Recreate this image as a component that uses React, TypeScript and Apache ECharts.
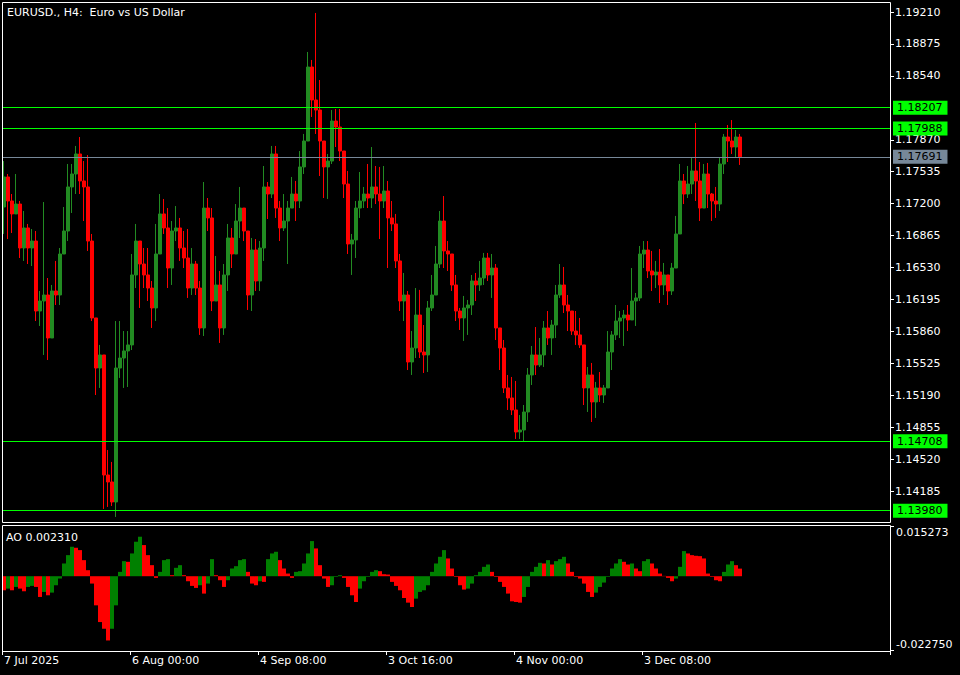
import React, { useEffect, useRef } from 'react';
import * as echarts from 'echarts';

const symbolTitle = 'EURUSD., H4:  Euro vs US Dollar';

// Each candle = 4 H4 bars (open, close, high, low)
const opens = [
  1.17165, 1.17480, 1.17228, 1.17092, 1.17196, 1.16735, 1.16945, 1.16735, 1.16808, 1.16074,
  1.16179, 1.16242, 1.15791, 1.16284, 1.16242, 1.16672, 1.16913, 1.17375, 1.17511, 1.17721,
  1.17438, 1.17375, 1.16808, 1.16001, 1.15476, 1.15613, 1.14354, 1.14281, 1.14071, 1.15476,
  1.15581, 1.15655, 1.15718, 1.16452, 1.16808, 1.16567, 1.16452, 1.16315, 1.16106, 1.16672,
  1.17092, 1.16945, 1.16525, 1.16913, 1.16945, 1.16735, 1.16630, 1.16315, 1.16567, 1.16315,
  1.15896, 1.17154, 1.17050, 1.16179, 1.16347, 1.15896, 1.16452, 1.16840, 1.16672, 1.17018,
  1.17154, 1.16913, 1.16242, 1.16714, 1.16389, 1.16735, 1.17375, 1.17301, 1.17721, 1.17154,
  1.16945, 1.17018, 1.17154, 1.17301, 1.17228, 1.17585, 1.17857, 1.18633, 1.18287, 1.18182,
  1.17857, 1.17585, 1.17647, 1.18067, 1.18004, 1.17752, 1.17406, 1.16777, 1.16819, 1.17154,
  1.17228, 1.17301, 1.17259, 1.17375, 1.17301, 1.17228, 1.17333, 1.17050, 1.16987, 1.16599,
  1.16179, 1.16242, 1.15539, 1.15686, 1.16032, 1.15644, 1.15613, 1.16106, 1.16242, 1.16567,
  1.17018, 1.16704, 1.16672, 1.16347, 1.16074, 1.16001, 1.16106, 1.16137, 1.16389, 1.16347,
  1.16420, 1.16630, 1.16452, 1.16525, 1.15896, 1.15686, 1.15267, 1.15162, 1.15036, 1.14805,
  1.14826, 1.15015, 1.15403, 1.15613, 1.15508, 1.15613, 1.15896, 1.15791, 1.15927, 1.16242,
  1.16347, 1.16137, 1.16074, 1.15864, 1.15823, 1.15718, 1.15267, 1.15403, 1.15120, 1.15267,
  1.15193, 1.15267, 1.15644, 1.15823, 1.15969, 1.16001, 1.16032, 1.15980, 1.16179, 1.16211,
  1.16672, 1.16714, 1.16494, 1.16452, 1.16483, 1.16347, 1.16452, 1.16284, 1.16525, 1.16882,
  1.17438, 1.17301, 1.17406, 1.17543, 1.17438, 1.17154, 1.17511, 1.17301, 1.17228, 1.17196,
  1.17616, 1.17899, 1.17857, 1.17794, 1.17899,
];

const closes = [
  1.17480, 1.17228, 1.17092, 1.17196, 1.16735, 1.16945, 1.16735, 1.16808, 1.16074, 1.16179,
  1.16242, 1.15791, 1.16284, 1.16242, 1.16672, 1.16913, 1.17375, 1.17511, 1.17721, 1.17438,
  1.17375, 1.16808, 1.16001, 1.15476, 1.15613, 1.14354, 1.14281, 1.14071, 1.15476, 1.15581,
  1.15655, 1.15718, 1.16452, 1.16808, 1.16567, 1.16452, 1.16315, 1.16106, 1.16672, 1.17092,
  1.16945, 1.16525, 1.16913, 1.16945, 1.16735, 1.16630, 1.16315, 1.16567, 1.16315, 1.15896,
  1.17154, 1.17050, 1.16179, 1.16347, 1.15896, 1.16452, 1.16840, 1.16672, 1.17018, 1.17154,
  1.16913, 1.16242, 1.16714, 1.16389, 1.16735, 1.17375, 1.17301, 1.17721, 1.17154, 1.16945,
  1.17018, 1.17154, 1.17301, 1.17228, 1.17585, 1.17857, 1.18633, 1.18287, 1.18182, 1.17857,
  1.17585, 1.17647, 1.18067, 1.18004, 1.17752, 1.17406, 1.16777, 1.16819, 1.17154, 1.17228,
  1.17301, 1.17259, 1.17375, 1.17301, 1.17228, 1.17333, 1.17050, 1.16987, 1.16599, 1.16179,
  1.16242, 1.15539, 1.15686, 1.16032, 1.15644, 1.15613, 1.16106, 1.16242, 1.16567, 1.17018,
  1.16704, 1.16672, 1.16347, 1.16074, 1.16001, 1.16106, 1.16137, 1.16389, 1.16347, 1.16420,
  1.16630, 1.16452, 1.16525, 1.15896, 1.15686, 1.15267, 1.15162, 1.15036, 1.14805, 1.14826,
  1.15015, 1.15403, 1.15613, 1.15508, 1.15613, 1.15896, 1.15791, 1.15927, 1.16242, 1.16347,
  1.16137, 1.16074, 1.15864, 1.15823, 1.15718, 1.15267, 1.15403, 1.15120, 1.15267, 1.15193,
  1.15267, 1.15644, 1.15823, 1.15969, 1.16001, 1.16032, 1.15980, 1.16179, 1.16211, 1.16672,
  1.16714, 1.16494, 1.16452, 1.16483, 1.16347, 1.16452, 1.16284, 1.16525, 1.16882, 1.17438,
  1.17301, 1.17406, 1.17543, 1.17438, 1.17154, 1.17511, 1.17301, 1.17228, 1.17196, 1.17616,
  1.17899, 1.17857, 1.17794, 1.17899, 1.17691,
];

const highs = [
  1.17647, 1.17511, 1.17301, 1.17511, 1.17228, 1.17123, 1.16987, 1.16934, 1.16913, 1.16284,
  1.17217, 1.16420, 1.16347, 1.16599, 1.16735, 1.17165, 1.17616, 1.17616, 1.17805, 1.17899,
  1.17647, 1.17710, 1.16882, 1.16001, 1.15718, 1.15476, 1.14616, 1.14491, 1.15969, 1.15969,
  1.15864, 1.15864, 1.16672, 1.16987, 1.16735, 1.16735, 1.16735, 1.16389, 1.16987, 1.17301,
  1.17249, 1.17154, 1.17018, 1.17175, 1.17050, 1.16913, 1.16934, 1.16735, 1.16599, 1.16389,
  1.17427, 1.17259, 1.17154, 1.16651, 1.16494, 1.16567, 1.16987, 1.16945, 1.17196, 1.17375,
  1.17154, 1.16599, 1.16840, 1.16829, 1.16808, 1.17595, 1.17427, 1.17805, 1.17805, 1.17228,
  1.17301, 1.17228, 1.17480, 1.17438, 1.17752, 1.17931, 1.18791, 1.18707, 1.19200, 1.18497,
  1.17857, 1.17721, 1.18182, 1.18193, 1.18193, 1.17647, 1.17543, 1.16882, 1.17228, 1.17532,
  1.17375, 1.17616, 1.17794, 1.17595, 1.17585, 1.17595, 1.17438, 1.17228, 1.17092, 1.16672,
  1.16473, 1.16284, 1.15864, 1.16315, 1.16295, 1.15927, 1.16179, 1.16452, 1.16756, 1.17123,
  1.17280, 1.16808, 1.16672, 1.16452, 1.16106, 1.16232, 1.16190, 1.16452, 1.16473, 1.16599,
  1.16683, 1.16683, 1.16672, 1.16567, 1.15864, 1.15770, 1.15403, 1.15382, 1.15340, 1.14983,
  1.15088, 1.15476, 1.15707, 1.15906, 1.15791, 1.15969, 1.16074, 1.15980, 1.16347, 1.16567,
  1.16536, 1.16242, 1.16074, 1.16074, 1.16001, 1.15686, 1.15487, 1.15529, 1.15330, 1.15434,
  1.15298, 1.15864, 1.15864, 1.16137, 1.16074, 1.16085, 1.16137, 1.16525, 1.16263, 1.16756,
  1.16808, 1.16808, 1.16704, 1.16599, 1.16724, 1.16578, 1.16420, 1.16578, 1.17071, 1.17616,
  1.17511, 1.17595, 1.17689, 1.18046, 1.17637, 1.17616, 1.17627, 1.17312, 1.17375, 1.17689,
  1.17931, 1.18025, 1.18077, 1.17973, 1.17931,
];

const lows = [
  1.16882, 1.16829, 1.16892, 1.17092, 1.16630, 1.16599, 1.16567, 1.16546, 1.15969, 1.15917,
  1.15613, 1.15560, 1.15864, 1.16137, 1.16137, 1.16787, 1.16808, 1.17102, 1.17301, 1.17301,
  1.17018, 1.16704, 1.15969, 1.15193, 1.15267, 1.13998, 1.14019, 1.14029, 1.13914, 1.15372,
  1.15267, 1.15277, 1.15665, 1.16315, 1.16106, 1.16315, 1.16179, 1.15896, 1.15969, 1.16672,
  1.16882, 1.16315, 1.16347, 1.16808, 1.16599, 1.16525, 1.16211, 1.16242, 1.16242, 1.15823,
  1.15812, 1.16913, 1.16074, 1.16242, 1.15739, 1.15823, 1.16284, 1.16525, 1.16840, 1.16840,
  1.16808, 1.16085, 1.16074, 1.16284, 1.16284, 1.16599, 1.17039, 1.17259, 1.17050, 1.16808,
  1.16913, 1.16567, 1.17154, 1.17018, 1.17154, 1.17511, 1.17857, 1.18109, 1.17931, 1.17490,
  1.17259, 1.17249, 1.17616, 1.17794, 1.17647, 1.17259, 1.16672, 1.16452, 1.16630, 1.17050,
  1.17154, 1.17154, 1.17154, 1.17196, 1.16829, 1.17154, 1.16525, 1.16913, 1.16525, 1.16074,
  1.15969, 1.15455, 1.15403, 1.15581, 1.15581, 1.15424, 1.15434, 1.16074, 1.16242, 1.16525,
  1.16525, 1.16494, 1.16284, 1.15969, 1.15875, 1.15760, 1.15823, 1.16032, 1.16179, 1.16284,
  1.16347, 1.16389, 1.16211, 1.15770, 1.15455, 1.15214, 1.15036, 1.14983, 1.14732, 1.14732,
  1.14708, 1.14910, 1.15298, 1.15403, 1.15487, 1.15487, 1.15718, 1.15613, 1.15791, 1.16211,
  1.16053, 1.15864, 1.15823, 1.15718, 1.15686, 1.15088, 1.15015, 1.14910, 1.14952, 1.15120,
  1.15109, 1.15298, 1.15455, 1.15770, 1.15791, 1.15707, 1.15864, 1.16001, 1.15917, 1.16179,
  1.16525, 1.16420, 1.16284, 1.16315, 1.16158, 1.16242, 1.16137, 1.16242, 1.16599, 1.16913,
  1.17196, 1.17259, 1.17301, 1.17228, 1.17018, 1.17228, 1.17154, 1.17018, 1.17050, 1.17123,
  1.17511, 1.17637, 1.17721, 1.17689, 1.17606,
];

const aoValues = [
  -0.00428, -0.00377, -0.00428, -0.00326, -0.00377, -0.00458, -0.00326, -0.00295, -0.00326, -0.00631,
  -0.00478, -0.00580, -0.00499, -0.00275, -0.00071, 0.00387, 0.00641, 0.00896, 0.00865, 0.00794,
  0.00489, 0.00183, -0.00224, -0.00886, -0.01395, -0.01598, -0.01955, -0.01598, -0.00886, 0.00132,
  0.00458, 0.00438, 0.00692, 0.01049, 0.01201, 0.00947, 0.00641, 0.00336, -0.00051, 0.00132,
  0.00489, 0.00519, 0.00031, 0.00255, 0.00336, 0.00031, -0.00153, -0.00295, -0.00356, -0.00275,
  -0.00529, -0.00224, 0.00519, 0.00031, -0.00122, -0.00326, -0.00122, 0.00234, 0.00305, 0.00489,
  0.00519, 0.00132, -0.00224, -0.00275, -0.00153, -0.00173, 0.00519, 0.00692, 0.00743, 0.00489,
  0.00234, 0.00081, -0.00051, 0.00132, 0.00153, 0.00387, 0.00692, 0.01069, 0.00845, 0.00336,
  -0.00071, -0.00326, -0.00275, -0.00020, 0.00031, -0.00051, -0.00326, -0.00580, -0.00784, -0.00377,
  -0.00153, -0.00020, 0.00132, 0.00183, 0.00153, 0.00061, 0.00051, -0.00173, -0.00295, -0.00428,
  -0.00662, -0.00804, -0.00937, -0.00682, -0.00478, -0.00428, -0.00275, 0.00132, 0.00387, 0.00590,
  0.00794, 0.00540, 0.00234, -0.00020, -0.00275, -0.00407, -0.00377, -0.00224, 0.00031, 0.00132,
  0.00285, 0.00356, 0.00132, -0.00020, -0.00173, -0.00326, -0.00529, -0.00764, -0.00784, -0.00804,
  -0.00631, -0.00326, 0.00132, 0.00285, 0.00407, 0.00387, 0.00489, 0.00356, 0.00458, 0.00519,
  0.00590, 0.00387, 0.00132, -0.00020, -0.00071, -0.00224, -0.00478, -0.00631, -0.00499, -0.00326,
  -0.00193, -0.00020, 0.00234, 0.00387, 0.00519, 0.00438, 0.00356, 0.00387, 0.00234, 0.00153,
  0.00458, 0.00519, 0.00387, 0.00234, 0.00081, 0.00010, -0.00051, -0.00153, -0.00071, 0.00285,
  0.00764, 0.00692, 0.00641, 0.00621, 0.00611, 0.00540, 0.00081, -0.00020, -0.00122, -0.00153,
  0.00132, 0.00356, 0.00458, 0.00336, 0.00231,
];

const priceTicks = [
  1.19210, 1.18875, 1.18540, 1.17870, 1.17535, 1.17200, 1.16865, 1.16530,
  1.16195, 1.15860, 1.15525, 1.15190, 1.14855, 1.14520, 1.14185,
];
const timeLabels = ['7 Jul 2025', '6 Aug 00:00', '4 Sep 08:00', '3 Oct 16:00', '4 Nov 00:00', '3 Dec 08:00'];
const greenLevels = [1.18207, 1.17988, 1.14708, 1.13980];
const bidPrice = 1.17691;
const aoMax = 0.015273;
const aoMin = -0.02275;
const aoLast = 0.00231;

const PRICE_MIN = 1.13861;
const PRICE_MAX = 1.19315;
const SLOTS = 222;
const LABEL_STEP = 32;

const FONT = '"DejaVu Sans", sans-serif';
const BULL = '#228b22';
const BEAR = '#ff0000';
const AO_UP = '#008000';
const AO_DOWN = '#ff0000';
const LEVEL = '#00ff00';
const BID = '#778899';

export default function App() {
  const ref = useRef<HTMLDivElement>(null);

  useEffect(() => {
    if (!ref.current) return;
    const chart = echarts.init(ref.current, null, { renderer: 'svg' });
    const slots = Array.from({ length: SLOTS }, (_, i) => String(i));
    const candles = closes.map((c, i) => {
      const o = opens[i];
      return [o, c, Math.min(lows[i], o, c), Math.max(highs[i], o, c)];
    });
    const aoData = aoValues.map((v, i) => ({
      value: v,
      itemStyle: { color: i > 0 && v > aoValues[i - 1] ? AO_UP : AO_DOWN },
    }));
    const aoScaleMax = aoMax + (aoMax - aoMin) / 125;
    const labelCount = timeLabels.length;

    const levelMark = (value: number, color: string) => ({
      yAxis: value,
      lineStyle: { color, width: 1, type: 'solid' },
      label: {
        show: true,
        position: 'end',
        distance: 3,
        formatter: value.toFixed(5),
        color: '#000000',
        backgroundColor: color,
        padding: [1, 5, 1, 4],
        fontSize: 11,
        lineHeight: 12,
        fontFamily: FONT,
      },
    });

    const whiteText = { fill: '#ffffff', fontSize: 11, fontFamily: FONT };

    chart.setOption({
      animation: false,
      backgroundColor: '#000000',
      grid: [
        { left: 2, top: 2, width: 888, height: 520, outerBoundsMode: 'none' },
        { left: 2, top: 525, width: 888, height: 126, outerBoundsMode: 'none' },
      ],
      xAxis: [
        {
          type: 'category',
          gridIndex: 0,
          data: slots,
          axisLine: { show: false, onZero: false },
          axisTick: { show: false },
          axisLabel: { show: false },
          splitLine: { show: false },
        },
        {
          type: 'category',
          gridIndex: 1,
          data: slots,
          position: 'bottom',
          axisLine: { show: false, onZero: false },
          axisTick: {
            show: true,
            length: 4,
            interval: (i: number) => i % LABEL_STEP === 0 && i / LABEL_STEP < labelCount,
            lineStyle: { color: '#ffffff', width: 1 },
          },
          axisLabel: {
            show: true,
            interval: (i: number) => i % LABEL_STEP === 0 && i / LABEL_STEP < labelCount,
            formatter: (_v: string, i: number) => timeLabels[i / LABEL_STEP] ?? '',
            align: 'left',
            margin: 4,
            color: '#ffffff',
            fontSize: 11,
            fontFamily: FONT,
          },
          splitLine: { show: false },
        },
      ],
      yAxis: [
        {
          type: 'value',
          gridIndex: 0,
          position: 'right',
          min: PRICE_MIN,
          max: PRICE_MAX,
          axisLine: { show: false },
          splitLine: { show: false },
          axisTick: {
            show: true,
            length: 4,
            customValues: priceTicks,
            lineStyle: { color: '#ffffff', width: 1 },
          },
          axisLabel: {
            show: true,
            customValues: priceTicks,
            formatter: (v: number) => v.toFixed(5),
            margin: 5,
            color: '#ffffff',
            fontSize: 11,
            fontFamily: FONT,
          },
        },
        {
          type: 'value',
          gridIndex: 1,
          min: aoMin,
          max: aoScaleMax,
          show: false,
          splitLine: { show: false },
        },
      ],
      series: [
        {
          // carrier series for the horizontal price levels (invisible itself)
          type: 'line',
          xAxisIndex: 0,
          yAxisIndex: 0,
          data: closes,
          symbol: 'none',
          silent: true,
          lineStyle: { opacity: 0 },
          z: 1,
          markLine: {
            silent: true,
            symbol: ['none', 'none'],
            animation: false,
            precision: 5,
            data: [
              ...greenLevels.map((v) => levelMark(v, LEVEL)),
              levelMark(bidPrice, BID),
            ],
          },
        },
        {
          type: 'candlestick',
          xAxisIndex: 0,
          yAxisIndex: 0,
          data: candles,
          barWidth: 3,
          z: 3,
          itemStyle: {
            color: BULL,
            color0: BEAR,
            borderColor: BULL,
            borderColor0: BEAR,
            borderWidth: 1,
          },
        },
        {
          type: 'bar',
          xAxisIndex: 1,
          yAxisIndex: 1,
          data: aoData,
          barWidth: 4,
        },
      ],
      graphic: [
        {
          type: 'rect',
          z: 100,
          silent: true,
          shape: { x: 2.5, y: 2.5, width: 888, height: 520 },
          style: { fill: 'none', stroke: '#ffffff', lineWidth: 1 },
        },
        {
          type: 'rect',
          z: 100,
          silent: true,
          shape: { x: 2.5, y: 525.5, width: 888, height: 126 },
          style: { fill: 'none', stroke: '#ffffff', lineWidth: 1 },
        },
        {
          type: 'text',
          z: 100,
          x: 7,
          y: 12,
          style: { ...whiteText, text: symbolTitle, verticalAlign: 'middle' },
        },
        {
          type: 'text',
          z: 100,
          x: 6,
          y: 537,
          style: { ...whiteText, text: 'AO ' + aoLast.toFixed(6), verticalAlign: 'middle' },
        },
        {
          type: 'text',
          z: 100,
          x: 896,
          y: 532.5,
          style: { ...whiteText, text: aoMax.toFixed(6), verticalAlign: 'middle' },
        },
        {
          type: 'text',
          z: 100,
          x: 896,
          y: 644.5,
          style: { ...whiteText, text: aoMin.toFixed(6), verticalAlign: 'middle' },
        },
        {
          type: 'line',
          z: 100,
          shape: { x1: 890, y1: 526.5, x2: 894, y2: 526.5 },
          style: { stroke: '#ffffff', lineWidth: 1 },
        },
        {
          type: 'line',
          z: 100,
          shape: { x1: 890, y1: 650.5, x2: 894, y2: 650.5 },
          style: { stroke: '#ffffff', lineWidth: 1 },
        },
      ],
    });

    return () => {
      chart.dispose();
    };
  }, []);

  return (
    <div
      ref={ref}
      style={{ position: 'fixed', left: 0, top: 0, width: 960, height: 675, background: '#000000' }}
    />
  );
}
